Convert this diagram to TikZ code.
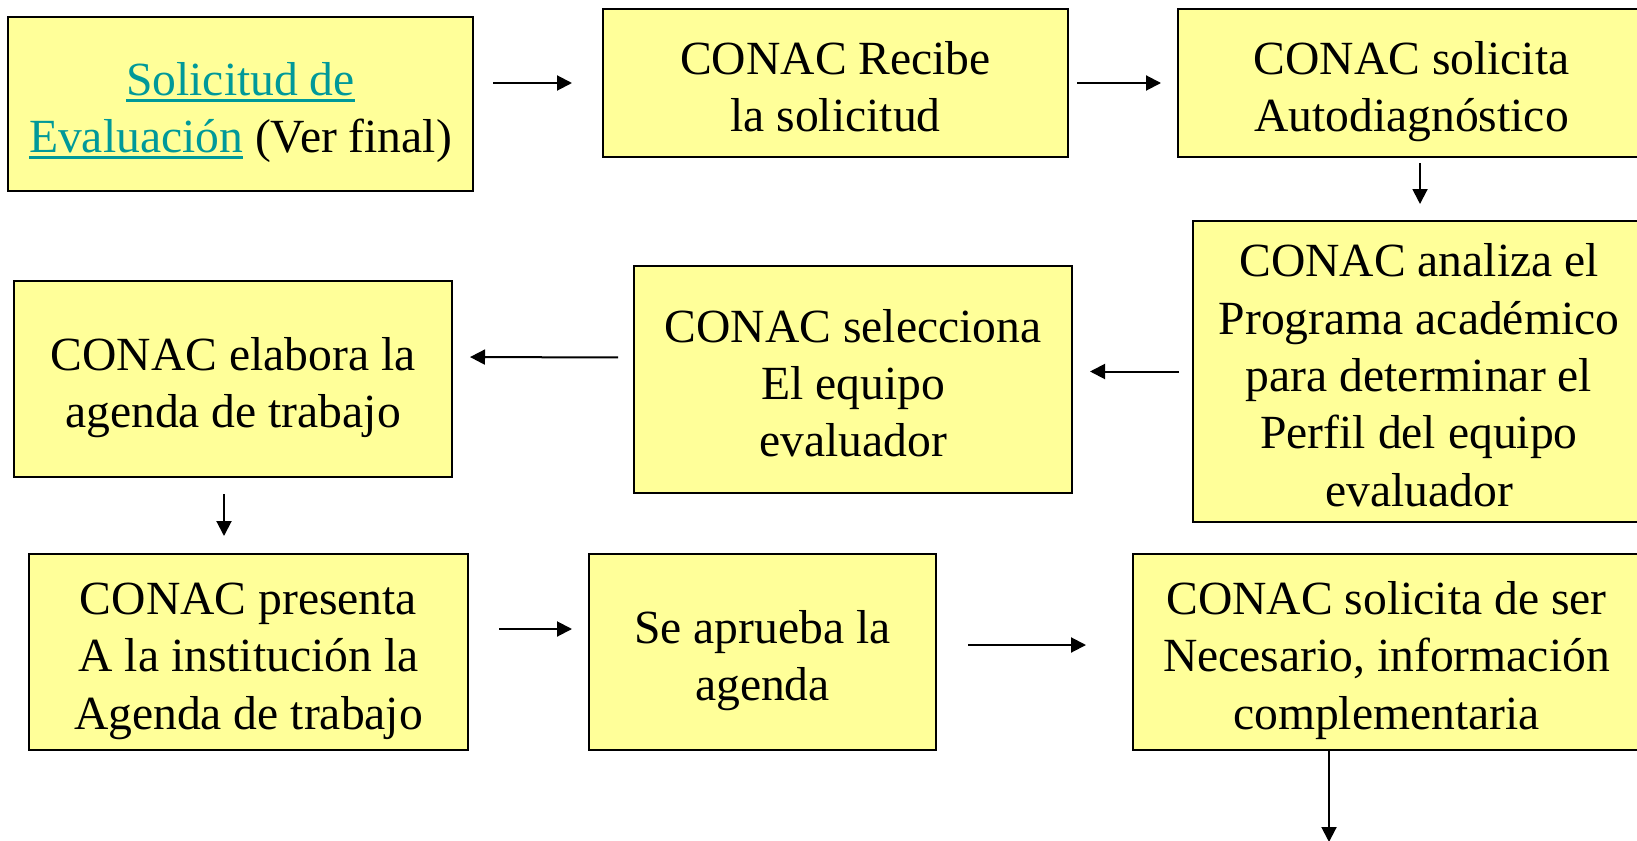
\documentclass[tikz,border=0pt]{standalone}
\usepackage{fontspec}
\setmainfont{Liberation Serif}
\usetikzlibrary{arrows.meta}
\definecolor{boxyellow}{RGB}{255,255,153}
\definecolor{linkteal}{RGB}{0,153,153}
% struts: first line up to the ascent, last line down to the descent
\newcommand\topstrut{\rule{0pt}{25.4pt}}
\newcommand\botstrut{\rule[-5.5pt]{0pt}{5.5pt}}
% thick link underline
\newsavebox\ulbox
\newcommand\linkul[1]{\sbox\ulbox{#1}\rlap{\rule[-3.2pt]{\wd\ulbox}{1.4pt}}\usebox\ulbox}
\begin{document}
\begin{tikzpicture}[x=0.5pt,y=-0.5pt,
  box/.style={draw, line width=1pt, fill=boxyellow, align=center, inner sep=2pt,
    font=\fontsize{23.8}{28.7}\selectfont},
  arr/.style={line width=1pt, -{Triangle[length=7.5pt,width=7.5pt]}}]
\useasboundingbox (0,0) rectangle (1637,840);
\node[box, minimum width=232.5pt, minimum height=87pt] (sol) at (240.5,104){\topstrut\textcolor{linkteal}{\linkul{Solicitud de}}\\\textcolor{linkteal}{\linkul{Evaluación}} (Ver final)\botstrut};
\node[box, minimum width=232.5pt, minimum height=74pt] (recibe) at (835.5,83){\topstrut CONAC Recibe\\la solicitud\botstrut};
\node[box, minimum width=233.5pt, minimum height=74pt] (autodiag) at (1411.5,83){\topstrut CONAC solicita\\Autodiagnóstico\botstrut};
\node[box, minimum width=226pt, minimum height=150.5pt] (analiza) at (1419,371.5){\topstrut CONAC analiza el\\Programa académico\\para determinar el\\Perfil del equipo\\evaluador\botstrut};
\node[box, minimum width=219pt, minimum height=113.5pt] (selecc) at (853,379.5){\topstrut CONAC selecciona\\El equipo\\evaluador\botstrut};
\node[box, minimum width=219pt, minimum height=98pt] (elabora) at (233,379){\topstrut CONAC elabora la\\agenda de trabajo\botstrut};
\node[box, minimum width=219.5pt, minimum height=98pt] (presenta) at (248.5,652){\topstrut CONAC presenta\\A la institución la\\Agenda de trabajo\botstrut};
\node[box, minimum width=173.5pt, minimum height=98pt] (aprueba) at (762.5,652){\topstrut Se aprueba la\\agenda\botstrut};
\node[box, minimum width=253.5pt, minimum height=98pt] (necesario) at (1386.5,652){\topstrut CONAC solicita de ser\\Necesario, información\\complementaria\botstrut};
\coordinate (fin) at (1329,842);

\draw[arr, shorten <=9.5pt, shorten >=15pt](sol.east |- recibe.west) -- (recibe.west);
\draw[arr, shorten <=4pt, shorten >=8pt](recibe.east) -- (autodiag.west);
\draw[arr, shorten <=2.5pt, shorten >=8pt]([xshift=4.25pt]autodiag.south) -- ([xshift=4.25pt]autodiag.south |- analiza.north);
\draw[arr, shorten <=6.5pt, shorten >=8.5pt](analiza.west) -- (analiza.west -| selecc.east);
\draw[arr, shorten <=7.5pt, shorten >=8.5pt]([yshift=11pt]selecc.west) -- ([yshift=11pt]elabora.east);
\draw[arr, shorten <=8pt, shorten >=8.5pt]([xshift=-4.5pt]elabora.south) -- ([xshift=-4.5pt]elabora.south |- presenta.north);
\draw[arr, shorten <=15pt, shorten >=8pt]([yshift=11.5pt]presenta.east) -- ([yshift=11.5pt]aprueba.west);
\draw[arr, shorten <=15.5pt, shorten >=23pt]([yshift=3.5pt]aprueba.east) -- ([yshift=3.5pt]necesario.west);
\draw[arr](necesario.south -| fin) -- (fin);

\end{tikzpicture}
\end{document}
